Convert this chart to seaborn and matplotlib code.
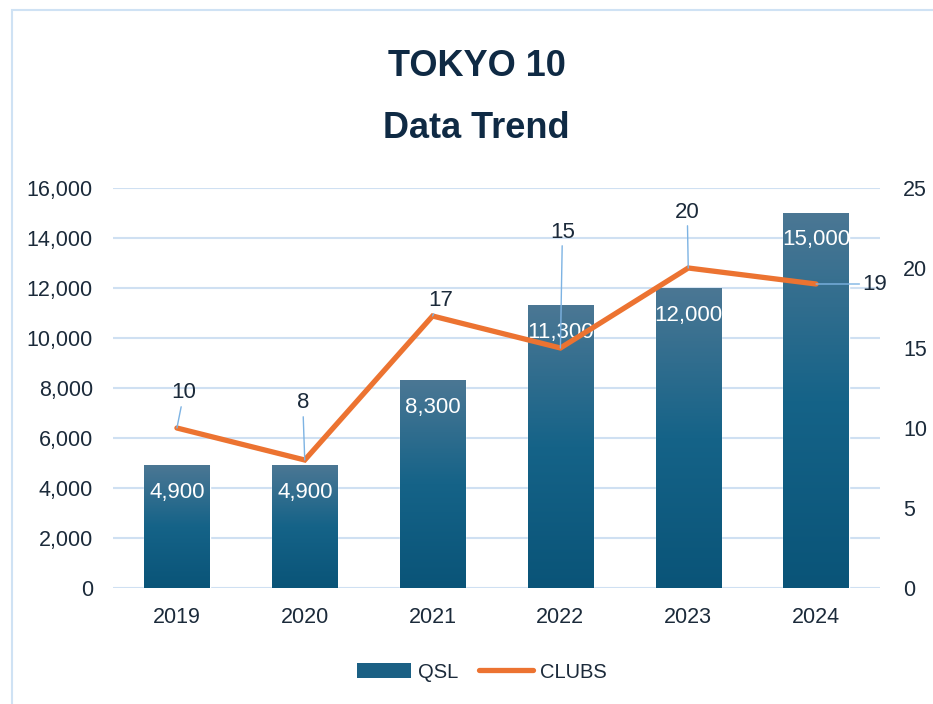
"""TOKYO 10 data trend: QSL bars (left axis) with CLUBS line (right axis)."""
import matplotlib
matplotlib.use("Agg")
import matplotlib.pyplot as plt
import numpy as np
import seaborn as sns
from matplotlib.colors import LinearSegmentedColormap
from matplotlib.lines import Line2D
from matplotlib.patches import Patch, Rectangle

years = ["2019", "2020", "2021", "2022", "2023", "2024"]
qsl = [4900, 4900, 8300, 11300, 12000, 15000]
clubs = [10, 8, 17, 15, 20, 19]
left_ticks = [0, 2000, 4000, 6000, 8000, 10000, 12000, 14000, 16000]
right_ticks = [0, 5, 10, 15, 20, 25]
# label offsets (pixels) from each CLUBS point
club_offsets = [(7, 35), (-2, 57), (8, 16), (2, 116), (-1, 56), (59, 0)]

TEXT = "#1b2a3a"
TITLE = "#0f2a44"
GRID = "#cfe0f2"
LEADER = "#7db3e3"
ORANGE = "#ec7331"

sns.set_theme(style="white")
plt.rcParams["font.family"] = ["Liberation Sans", "DejaVu Sans"]

fig = plt.figure(figsize=(9.33, 7.04), dpi=100)
ax = fig.add_axes([113 / 933, 1 - 588 / 704, (880 - 113) / 933, 400 / 704])

sns.barplot(x=years, y=qsl, ax=ax, color="#1b6084", width=0.51,
            saturation=1, zorder=2)

# vertical gradient fill for each bar
grad = LinearSegmentedColormap.from_list(
    "qsl", [(0.0, "#0a5478"), (0.5, "#156388"), (1.0, "#4b7794")])
ramp = np.linspace(0, 1, 256).reshape(-1, 1)
for p in ax.patches:
    x0, y0 = p.get_x(), p.get_y()
    ax.imshow(ramp, cmap=grad, origin="lower", aspect="auto", zorder=2.1,
              extent=[x0, x0 + p.get_width(), y0, y0 + p.get_height()])

ax.bar_label(ax.containers[0], labels=[f"{v:,}" for v in qsl], padding=-27,
             color="white", fontsize=16, zorder=4)

ax.set_xlim(-0.5, len(years) - 0.5)
ax.set_ylim(0, 16000)
ax.set_yticks(left_ticks)
ax.set_yticklabels([f"{v:,}" for v in left_ticks])
ax.yaxis.grid(True, color=GRID, lw=1.5, zorder=0)
ax.set_axisbelow(True)
ax.tick_params(axis="both", length=0, labelsize=15.5, labelcolor=TEXT)
ax.tick_params(axis="y", pad=14.5)
ax.tick_params(axis="x", pad=14)
ax.set_xlabel("")
ax.set_ylabel("")
sns.despine(ax=ax, left=True, bottom=True)

ax2 = ax.twinx()
xpos = np.arange(len(years))
sns.lineplot(x=xpos, y=clubs, ax=ax2, color=ORANGE, lw=3.8,
             solid_capstyle="round", solid_joinstyle="miter")
ax2.set_ylim(0, 25)
ax2.set_yticks(right_ticks)
ax2.tick_params(axis="y", length=0, labelsize=15.5, labelcolor=TEXT, pad=16.5)
ax2.set_ylabel("")
sns.despine(ax=ax2, left=True, right=True, bottom=True)

for x, v, (dx, dy) in zip(xpos, clubs, club_offsets):
    ax2.annotate(str(v), xy=(x, v), xytext=(dx, dy), textcoords="offset pixels",
                 ha="center", va="center", fontsize=16, color=TEXT,
                 arrowprops=dict(arrowstyle="-", color=LEADER, lw=1,
                                 shrinkA=0, shrinkB=0))

# titles
fig.text(0.511, 1 - 67 / 704, "TOKYO 10", ha="center", va="center",
         fontsize=26, fontweight="bold", color=TITLE)
fig.text(0.511, 1 - 128 / 704, "Data Trend", ha="center", va="center",
         fontsize=26, fontweight="bold", color=TITLE)

handles = [Patch(facecolor="#1b6084", edgecolor="none"),
           Line2D([], [], color=ORANGE, lw=3.8, solid_capstyle="round")]
fig.legend(handles, ["QSL", "CLUBS"], loc="center", ncol=2,
           bbox_to_anchor=(482 / 933, 1 - 672 / 704), frameon=False,
           fontsize=14.5, handlelength=2.7, handletextpad=0.35,
           columnspacing=1.0, labelcolor=TEXT)

# chart border (partly outside the canvas, like the reference)
fig.patches.append(Rectangle((12 / 933, -0.2), 1.2, 0.2 + 1 - 10 / 704,
                             transform=fig.transFigure, fill=False,
                             edgecolor="#cfe2f4", lw=1.5))

fig.savefig("out.png", dpi=100)
